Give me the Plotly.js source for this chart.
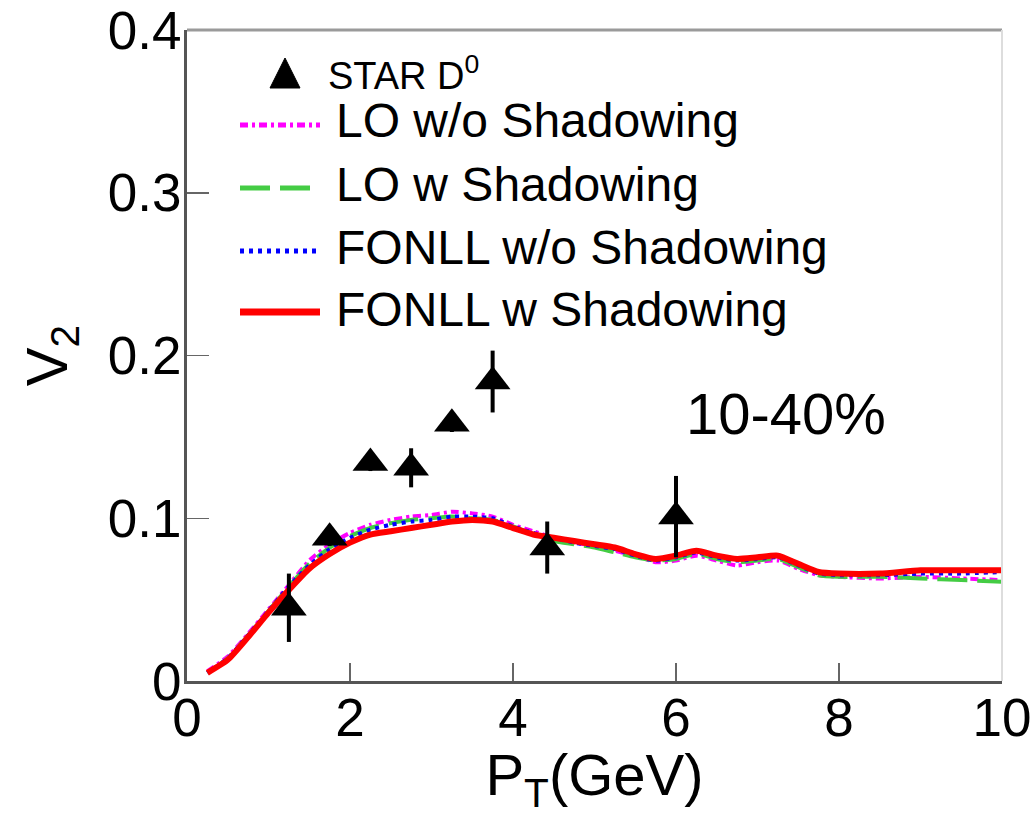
<!DOCTYPE html>
<html>
<head>
<meta charset="utf-8">
<script src="https://cdn.plot.ly/plotly-3.0.1.min.js"></script>
<style>html,body{margin:0;padding:0;background:#fff;}#chart{width:1035px;height:816px;}</style>
</head>
<body>
<div id="chart"></div>
<script>
// STAR D0 data
const starPt  = [1.25, 1.75, 2.25, 2.75, 3.25, 3.75, 4.42, 6.0];
const starV2  = [0.045, 0.088, 0.134, 0.131, 0.158, 0.184, 0.082, 0.101];
const starErr = [0.021, 0.005, 0.005, 0.012, 0.005, 0.019, 0.016, 0.025];

// model curves
const pt = [0.25,0.5,0.75,1.0,1.25,1.5,1.75,2.0,2.25,2.5,2.75,3.0,3.25,3.5,3.75,4.0,4.25,4.5,4.75,5.0,5.25,5.5,5.75,6.0,6.25,6.5,6.75,7.0,7.25,7.5,7.75,8.0,8.5,9.0,9.5,10.0];
const loNoShadow = [0.006,0.015,0.029,0.044,0.059,0.074,0.084,0.091,0.096,0.099,0.101,0.102,0.104,0.103,0.101,0.096,0.092,0.088,0.085,0.083,0.080,0.077,0.073,0.074,0.077,0.074,0.071,0.073,0.074,0.069,0.065,0.064,0.063,0.064,0.063,0.062];
const loShadow   = [0.005,0.014,0.028,0.043,0.058,0.072,0.082,0.089,0.094,0.097,0.099,0.100,0.101,0.100,0.099,0.095,0.090,0.086,0.084,0.082,0.079,0.076,0.074,0.075,0.078,0.075,0.073,0.074,0.075,0.070,0.065,0.064,0.064,0.063,0.062,0.061];
const fonllNoShadow = [0.005,0.014,0.028,0.043,0.058,0.071,0.081,0.088,0.093,0.096,0.098,0.099,0.101,0.101,0.100,0.095,0.091,0.088,0.085,0.083,0.081,0.077,0.074,0.076,0.079,0.076,0.074,0.075,0.076,0.071,0.066,0.065,0.065,0.066,0.066,0.067];
const fonllShadow   = [0.005,0.013,0.027,0.042,0.056,0.069,0.078,0.085,0.090,0.092,0.094,0.096,0.098,0.099,0.098,0.094,0.090,0.088,0.086,0.084,0.082,0.078,0.075,0.077,0.080,0.077,0.075,0.076,0.077,0.072,0.067,0.066,0.066,0.068,0.068,0.068];

const seriesNames = ['STAR D<sup>0</sup>','LO w/o Shadowing','LO w Shadowing','FONLL w/o Shadowing','FONLL w Shadowing'];
const lineColors = ['#ff00ff','#44cc44','#0000ff','#ff0000'];
const lineDashes = ['8px,4px,3px,4px','30px,10px','4px,5px','solid'];
const lineWidths = [4,4,4,6];

const FONT = 'Liberation Sans, Arial, Helvetica, sans-serif';
const curves = [loNoShadow, loShadow, fonllNoShadow, fonllShadow];

const traces = curves.map((ys,i)=>({
  x: pt, y: ys, type:'scatter', mode:'lines', name: seriesNames[i+1],
  line:{color: lineColors[i], width: lineWidths[i], dash: lineDashes[i], shape:'spline', smoothing:0.6},
  showlegend:false, hoverinfo:'skip'
}));
traces.push({
  x: starPt, y: starV2, type:'scatter', mode:'markers', name: seriesNames[0],
  marker:{symbol:'triangle-up', size:31, color:'#000'},
  error_y:{type:'data', array: starErr, visible:true, color:'#000', thickness:4, width:0},
  showlegend:false
});

// plot area in pixels
const L=187, R=1002, T=30, B=681, W=1035, H=816;
const px = p => (p-L)/(R-L);
const py = p => (B-p)/(B-T);

const shapes = [
  {type:'line', xref:'paper', yref:'paper', x0:0, x1:1, y0:1, y1:1, line:{color:'#9a9a9a', width:3}},
  {type:'line', xref:'paper', yref:'paper', x0:1, x1:1, y0:0, y1:1, line:{color:'#dddddd', width:2}}
];
const annotations = [];
// custom legend
shapes.push({type:'path', xref:'paper', yref:'paper',
  path:`M ${px(270)} ${py(88)} L ${px(300)} ${py(88)} L ${px(285)} ${py(58)} Z`,
  fillcolor:'#000', line:{color:'#000', width:1}});
annotations.push({xref:'paper', yref:'paper', x:px(326), y:py(73), xanchor:'left', yanchor:'middle',
  text: seriesNames[0], showarrow:false, font:{family:FONT, size:38, color:'#000'}});
const legY = [125, 188, 251, 312];
const txtY = [121, 184, 247, 310];
for (let i=0;i<4;i++){
  shapes.push({type:'line', xref:'paper', yref:'paper', x0:px(240), x1:px(320), y0:py(legY[i]), y1:py(legY[i]),
    line:{color: lineColors[i], width: i===3?7:5, dash: lineDashes[i]}});
  annotations.push({xref:'paper', yref:'paper', x:px(334), y:py(txtY[i]), xanchor:'left', yanchor:'middle',
    text: seriesNames[i+1], showarrow:false, font:{family:FONT, size:48, color:'#000'}});
}
annotations.push({xref:'paper', yref:'paper', x:px(786), y:py(413), xanchor:'center', yanchor:'middle',
  text:'10-40%', showarrow:false, font:{family:FONT, size:58, color:'#000'}});

const layout = {
  width:W, height:H,
  margin:{l:L, r:W-R, t:T, b:H-B},
  paper_bgcolor:'#fff', plot_bgcolor:'#fff',
  font:{family:FONT, color:'#000'},
  xaxis:{range:[0,10], dtick:2, tick0:0, ticks:'inside', ticklen:18, tickwidth:1.5, tickcolor:'#666',
    showline:true, linecolor:'#555', linewidth:3, showgrid:false, zeroline:false,
    ticklabelstandoff:-12,
    tickfont:{family:FONT, size:53, color:'#000'},
    title:{text:'P<sub>T</sub>(GeV)', font:{family:FONT, size:58, color:'#000'}, standoff:12}},
  yaxis:{range:[0,0.4], dtick:0.1, tick0:0, ticks:'inside', ticklen:22, tickwidth:1.5, tickcolor:'#666',
    showline:true, linecolor:'#555', linewidth:3, showgrid:false, zeroline:false,
    ticklabelstandoff:-8,
    tickfont:{family:FONT, size:53, color:'#000'},
    title:{text:'V<sub>2</sub>', font:{family:FONT, size:58, color:'#000'}, standoff:22}},
  shapes: shapes, annotations: annotations, showlegend:false
};
Plotly.newPlot('chart', traces, layout, {displayModeBar:false, staticPlot:true});
</script>
</body>
</html>
